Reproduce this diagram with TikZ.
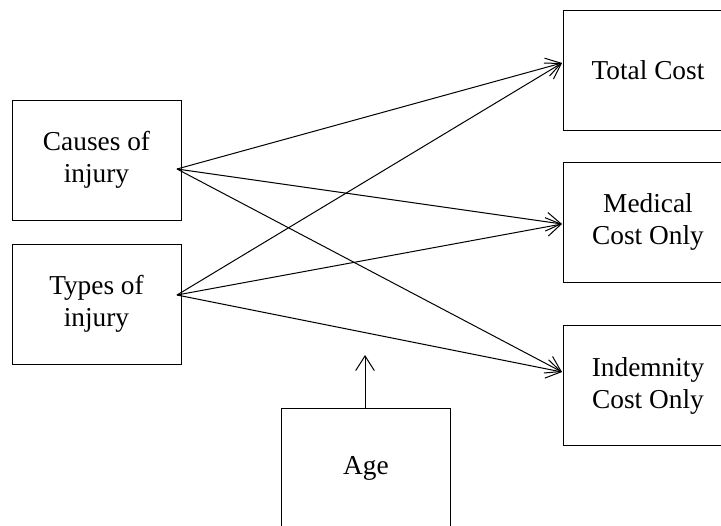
\documentclass[tikz,border=0pt]{standalone}
\usepackage{fontspec}
\setmainfont{Liberation Serif}
\usepackage{tikz}
\usetikzlibrary{arrows.meta}
\usetikzlibrary{positioning}

\tikzset{
  factor/.style={draw, line width=0.75pt, minimum width=126.75pt, minimum height=90pt,
    align=center, inner sep=0pt, font=\fontsize{20.5}{24}\selectfont},
  effect/.style={-{Straight Barb[length=11pt,width=14pt,line width=0.75pt]}, line width=0.75pt}
}

\begin{document}
\begin{tikzpicture}[x=0.75pt,y=-0.75pt]
      \useasboundingbox (0,0) rectangle (721,525);
      \node[factor] (causes) at (96.5,160) {Causes of\\injury};
      \node[factor] (types) at (96.5,304) {Types of\\injury};
      \node[factor] (total) at (648,70.5) {Total Cost};
      \node[factor] (medical) at (648,222) {Medical\\Cost Only};
      \node[factor] (indemnity) at (648,385.5) {Indemnity\\Cost Only};
      \node[factor] (age) at (366,468) {Age};
      \coordinate (causesout) at (177,169);
      \coordinate (typesout) at (177,295);
      \coordinate (totalin) at (562,63);
      \coordinate (medicalin) at (562,224);
      \coordinate (indemnityin) at (562,372);
      \coordinate (agetip) at (365,355);
      \draw[effect] (causesout) -- (totalin);
      \draw[effect] (causesout) -- (medicalin);
      \draw[effect] (causesout) -- (indemnityin);
      \draw[effect] (typesout) -- (totalin);
      \draw[effect] (typesout) -- (medicalin);
      \draw[effect] (typesout) -- (indemnityin);
      \draw[effect] (age.north -| agetip) -- (agetip);
    \end{tikzpicture}
\end{document}
